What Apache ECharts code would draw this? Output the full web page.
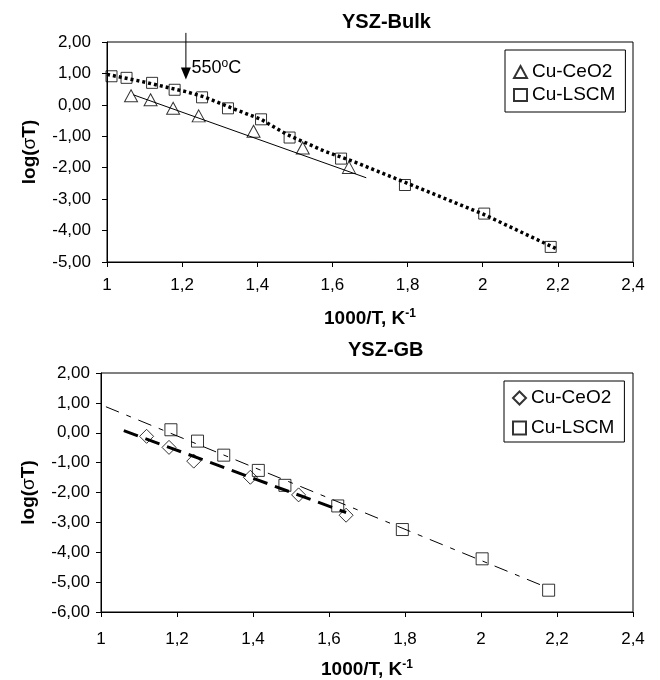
<!DOCTYPE html>
<html>
<head>
<meta charset="utf-8">
<script src="https://cdn.jsdelivr.net/npm/echarts@6/dist/echarts.min.js"></script>
<style>
  html, body { margin: 0; padding: 0; background: #fff; }
  #chart { width: 660px; height: 680px; }
</style>
</head>
<body>
<div id="chart"></div>
<script>
// data: [1000/T, log(sigma T)]
const bulkCeO2 = [[1.064, 0.29], [1.116, 0.16], [1.176, -0.11], [1.244, -0.35], [1.39, -0.84], [1.521, -1.37], [1.644, -1.99]];
const bulkLSCM = [[1.012, 0.91], [1.052, 0.86], [1.12, 0.70], [1.18, 0.48], [1.253, 0.24], [1.322, -0.11], [1.41, -0.46],
    [1.486, -1.04], [1.623, -1.71], [1.793, -2.55], [2.004, -3.46], [2.181, -4.52]];
const bulkCeO2Fit = [[1.07, 0.32], [1.69, -2.32]];
const bulkLSCMFit = [[1.0, 0.97], [1.09, 0.75], [1.21, 0.42], [1.26, 0.25], [1.34, -0.14], [1.41, -0.46], [1.48, -0.95],
    [1.58, -1.48], [1.66, -1.82], [1.79, -2.45], [2.0, -3.47], [2.2, -4.6]];
const gbCeO2 = [[1.12, -0.12], [1.179, -0.49], [1.244, -0.95], [1.393, -1.49], [1.52, -2.08], [1.645, -2.76]];
const gbLSCM = [[1.184, 0.10], [1.254, -0.28], [1.323, -0.75], [1.414, -1.26], [1.484, -1.76], [1.623, -2.45],
    [1.793, -3.24], [2.003, -4.22], [2.178, -5.27]];
const gbCeO2Fit = [[1.06, 0.07], [1.645, -2.67]];
const gbLSCMFit = [[1.013, 0.87], [2.17, -5.16]];
const seriesNames = ["Cu-CeO2", "Cu-LSCM"];
const titles = ["YSZ-Bulk", "YSZ-GB"];
// 550oC arrow: x position, start (above plot) and tip values
const arrowX = 1.21;
const arrowFrom = 2.29;
const arrowTip = 0.81;

const FONT = "'Liberation Sans', Arial, sans-serif";
const chart = echarts.init(document.getElementById("chart"));

const fmtX = (v) => String(+v.toFixed(1)).replace(".", ",");
const fmtY = (v) => v.toFixed(2).replace(".", ",");

function xAxis(gridIndex, margin, nameGap) {
    return {
        type: "value", gridIndex: gridIndex, min: 1, max: 2.4, interval: 0.2,
        name: "1000/T, K{s|-1}", nameLocation: "middle", nameGap: nameGap,
        nameTextStyle: {
            fontFamily: FONT, fontSize: 19, fontWeight: "bold", color: "#000",
            rich: { s: { fontFamily: FONT, fontSize: 12, fontWeight: "bold", color: "#000", padding: [0, 0, 9, 0] } }
        },
        axisLine: { show: true, onZero: false, lineStyle: { color: "#000", width: 1 } },
        axisTick: { show: true, length: 5, lineStyle: { color: "#000" } },
        axisLabel: { fontFamily: FONT, fontSize: 17, color: "#000", margin: margin, formatter: fmtX },
        splitLine: { show: false }
    };
}
function yAxis(gridIndex, min, margin, nameGap) {
    return {
        type: "value", gridIndex: gridIndex, min: min, max: 2, interval: 1,
        name: "log({g|σ}T)", nameLocation: "middle", nameRotate: 90, nameGap: nameGap,
        nameTextStyle: {
            fontFamily: FONT, fontSize: 19, fontWeight: "bold", color: "#000",
            rich: { g: { fontFamily: FONT, fontSize: 19, fontWeight: "normal", color: "#000" } }
        },
        axisLine: { show: true, onZero: false, lineStyle: { color: "#000", width: 1 } },
        axisTick: { show: true, length: 5, lineStyle: { color: "#000" } },
        axisLabel: { fontFamily: FONT, fontSize: 17, color: "#000", margin: margin, formatter: fmtY },
        splitLine: { show: false }
    };
}
const hollow = { color: "rgba(0,0,0,0)", borderColor: "#000", borderWidth: 1 };
function scatter(name, idx, data, symbol, size) {
    return {
        type: "scatter", name: name, xAxisIndex: idx, yAxisIndex: idx, data: data,
        symbol: symbol, symbolSize: size, itemStyle: hollow, clip: false, z: 3
    };
}
function fit(name, idx, data, lineStyle) {
    return {
        type: "line", name: name, xAxisIndex: idx, yAxisIndex: idx, data: data,
        symbol: "none", smooth: false, lineStyle: Object.assign({ color: "#000" }, lineStyle), z: 4
    };
}

const bulkCe = scatter(seriesNames[0], 0, bulkCeO2, "triangle", [13, 12]);
bulkCe.markPoint = {
    silent: true, animation: false, symbol: "rect", symbolSize: 0,
    data: [{ coord: [1.225, 1.17] }],
    label: {
        show: true, position: "right", distance: 0, formatter: "550{s|o}C",
        fontFamily: FONT, fontSize: 18, color: "#000",
        rich: { s: { fontFamily: FONT, fontSize: 12, color: "#000", padding: [0, 0, 8, 0] } }
    }
};

const option = {
    animation: false,
    backgroundColor: "#fff",
    title: [
        { text: titles[0], left: 342, top: 12, padding: 0, textStyle: { fontFamily: FONT, fontSize: 20, fontWeight: "bold", color: "#000" } },
        { text: titles[1], left: 348, top: 340, padding: 0, textStyle: { fontFamily: FONT, fontSize: 20, fontWeight: "bold", color: "#000" } }
    ],
    legend: [
        {
            left: 505, top: 50, orient: "vertical", data: seriesNames,
            borderColor: "#000", borderWidth: 1, padding: [12, 10, 7, 8], itemGap: 3,
            itemWidth: 13, itemHeight: 12, itemTextGap: 3,
            textStyle: { fontFamily: FONT, fontSize: 19, color: "#000", lineHeight: 20 }
        },
        {
            left: 504, top: 381, orient: "vertical",
            data: [{ name: seriesNames[0], icon: "diamond" }, { name: seriesNames[1] }],
            borderColor: "#000", borderWidth: 1, padding: [7, 10, 4, 8], itemGap: 10,
            itemWidth: 13, itemHeight: 13, itemTextGap: 4,
            textStyle: { fontFamily: FONT, fontSize: 19, color: "#000", lineHeight: 20 }
        }
    ],
    grid: [
        { left: 107, top: 42, width: 526, height: 220, show: true, borderColor: "#000", borderWidth: 1, backgroundColor: "transparent" },
        { left: 101, top: 373, width: 532, height: 243, show: true, borderColor: "#000", borderWidth: 1, backgroundColor: "transparent" }
    ],
    xAxis: [xAxis(0, 15, 46), xAxis(1, 19, 47)],
    yAxis: [yAxis(0, -5, 16, 68), yAxis(1, -6, 11, 63)],
    series: [
        bulkCe,
        scatter(seriesNames[1], 0, bulkLSCM, "rect", 11),
        fit("bulk-CeO2-fit", 0, bulkCeO2Fit, { width: 1, type: "solid" }),
        fit("bulk-LSCM-fit", 0, bulkLSCMFit, { width: 3.5, type: [3, 3] }),
        scatter(seriesNames[0], 1, gbCeO2, "diamond", 14),
        scatter(seriesNames[1], 1, gbLSCM, "rect", 12),
        fit("gb-CeO2-fit", 1, gbCeO2Fit, { width: 3, type: [15, 8] }),
        fit("gb-LSCM-fit", 1, gbLSCMFit, { width: 1, type: [14, 8, 5, 8] })
    ]
};
chart.setOption(option);

// 550oC arrow, placed through the top grid's scales (it starts above the plot area)
const from = chart.convertToPixel({ gridIndex: 0 }, [arrowX, arrowFrom]);
const tip = chart.convertToPixel({ gridIndex: 0 }, [arrowX, arrowTip]);
chart.setOption({
    graphic: [
        {
            type: "line", silent: true, z: 10,
            shape: { x1: from[0], y1: from[1], x2: tip[0], y2: tip[1] - 10 },
            style: { stroke: "#000", lineWidth: 1 }
        },
        {
            type: "polygon", silent: true, z: 10,
            shape: { points: [[tip[0] - 5, tip[1] - 12], [tip[0] + 5, tip[1] - 12], [tip[0], tip[1]]] },
            style: { fill: "#000" }
        }
    ]
});
</script>
</body>
</html>
